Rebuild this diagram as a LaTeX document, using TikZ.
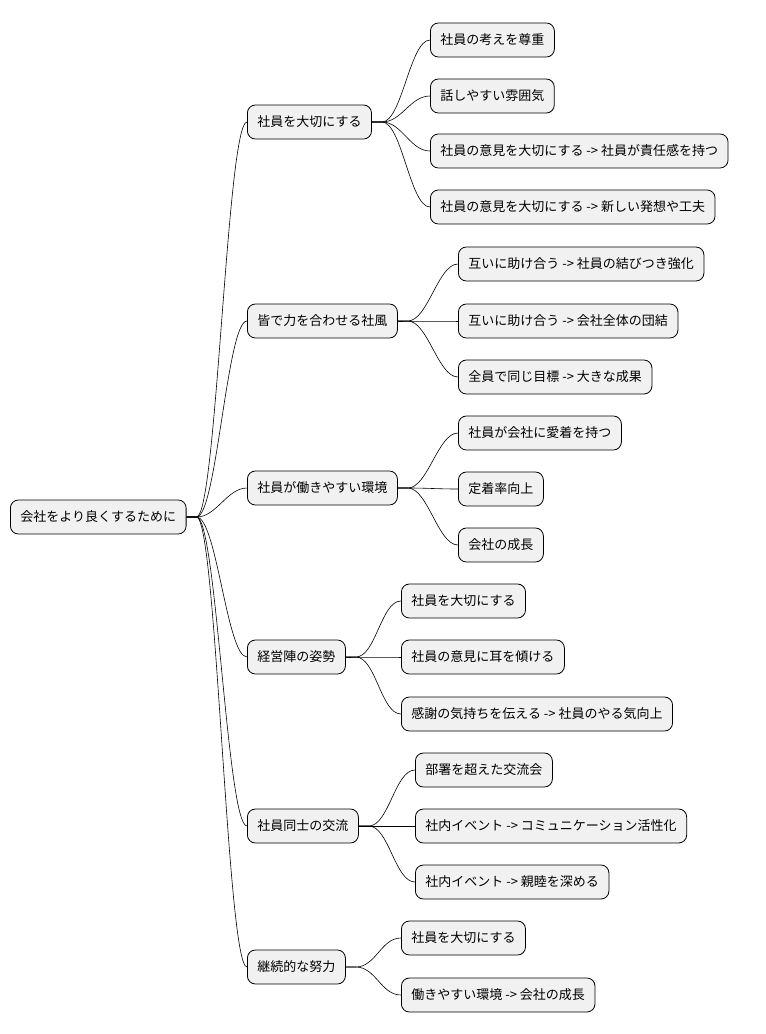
\documentclass[tikz,border=0pt]{standalone}
\usepackage{fontspec}
\newfontfamily\cjk{Noto Sans CJK JP}
\usetikzlibrary{positioning}
\definecolor{boxfill}{HTML}{F1F1F1}
\tikzset{
  topic/.style={rectangle, rounded corners=8pt, draw, line width=0.8pt, fill=boxfill,
    minimum height=34pt, inner xsep=10pt, anchor=west, font=\cjk\fontsize{13}{15}\selectfont},
  branch/.style={line width=0.6pt}
}
\begin{document}
\begin{tikzpicture}[x=1pt,y=-1pt]
        \useasboundingbox (0,0) rectangle (766,1034);
        \node[topic] (root) at (10, 517) {会社をより良くするために};
        % first level
        \node[topic] (a) at (247, 122) {社員を大切にする};
        \node[topic] (b) at (247, 321) {皆で力を合わせる社風};
        \node[topic] (c) at (247, 488) {社員が働きやすい環境};
        \node[topic] (d) at (247, 657) {経営陣の姿勢};
        \node[topic] (e) at (247, 826) {社員同士の交流};
        \node[topic] (f) at (247, 967) {継続的な努力};
        % second level
        \node[topic] (a1) at (430, 40) {社員の考えを尊重};
        \node[topic] (a2) at (430, 96) {話しやすい雰囲気};
        \node[topic] (a3) at (430, 151) {社員の意見を大切にする -> 社員が責任感を持つ};
        \node[topic] (a4) at (430, 207) {社員の意見を大切にする -> 新しい発想や工夫};
        \node[topic] (b1) at (458, 264) {互いに助け合う -> 社員の結びつき強化};
        \node[topic] (b2) at (458, 321) {互いに助け合う -> 会社全体の団結};
        \node[topic] (b3) at (458, 377) {全員で同じ目標 -> 大きな成果};
        \node[topic] (c1) at (458, 433) {社員が会社に愛着を持つ};
        \node[topic] (c2) at (458, 489) {定着率向上};
        \node[topic] (c3) at (458, 545) {会社の成長};
        \node[topic] (d1) at (401, 601) {社員を大切にする};
        \node[topic] (d2) at (401, 657) {社員の意見に耳を傾ける};
        \node[topic] (d3) at (401, 714) {感謝の気持ちを伝える -> 社員のやる気向上};
        \node[topic] (e1) at (415, 770) {部署を超えた交流会};
        \node[topic] (e2) at (415, 826) {社内イベント -> コミュニケーション活性化};
        \node[topic] (e3) at (415, 882) {社内イベント -> 親睦を深める};
        \node[topic] (f1) at (401, 938) {社員を大切にする};
        \node[topic] (f2) at (401, 995) {働きやすい環境 -> 会社の成長};
        % connectors
        \foreach \n in {a,b,c,d,e,f}
          \draw[branch] (root.east) -- +(10,0) .. controls +(20,0) and +(-20,0) .. (\n.west);
        \foreach \p/\cs in {a/{a1,a2,a3,a4}, b/{b1,b2,b3}, c/{c1,c2,c3}, d/{d1,d2,d3}, e/{e1,e2,e3}, f/{f1,f2}}
          \foreach \n in \cs
            \draw[branch] (\p.east) -- +(10,0) .. controls +(20,0) and +(-20,0) .. (\n.west);
    \end{tikzpicture}
\end{document}
